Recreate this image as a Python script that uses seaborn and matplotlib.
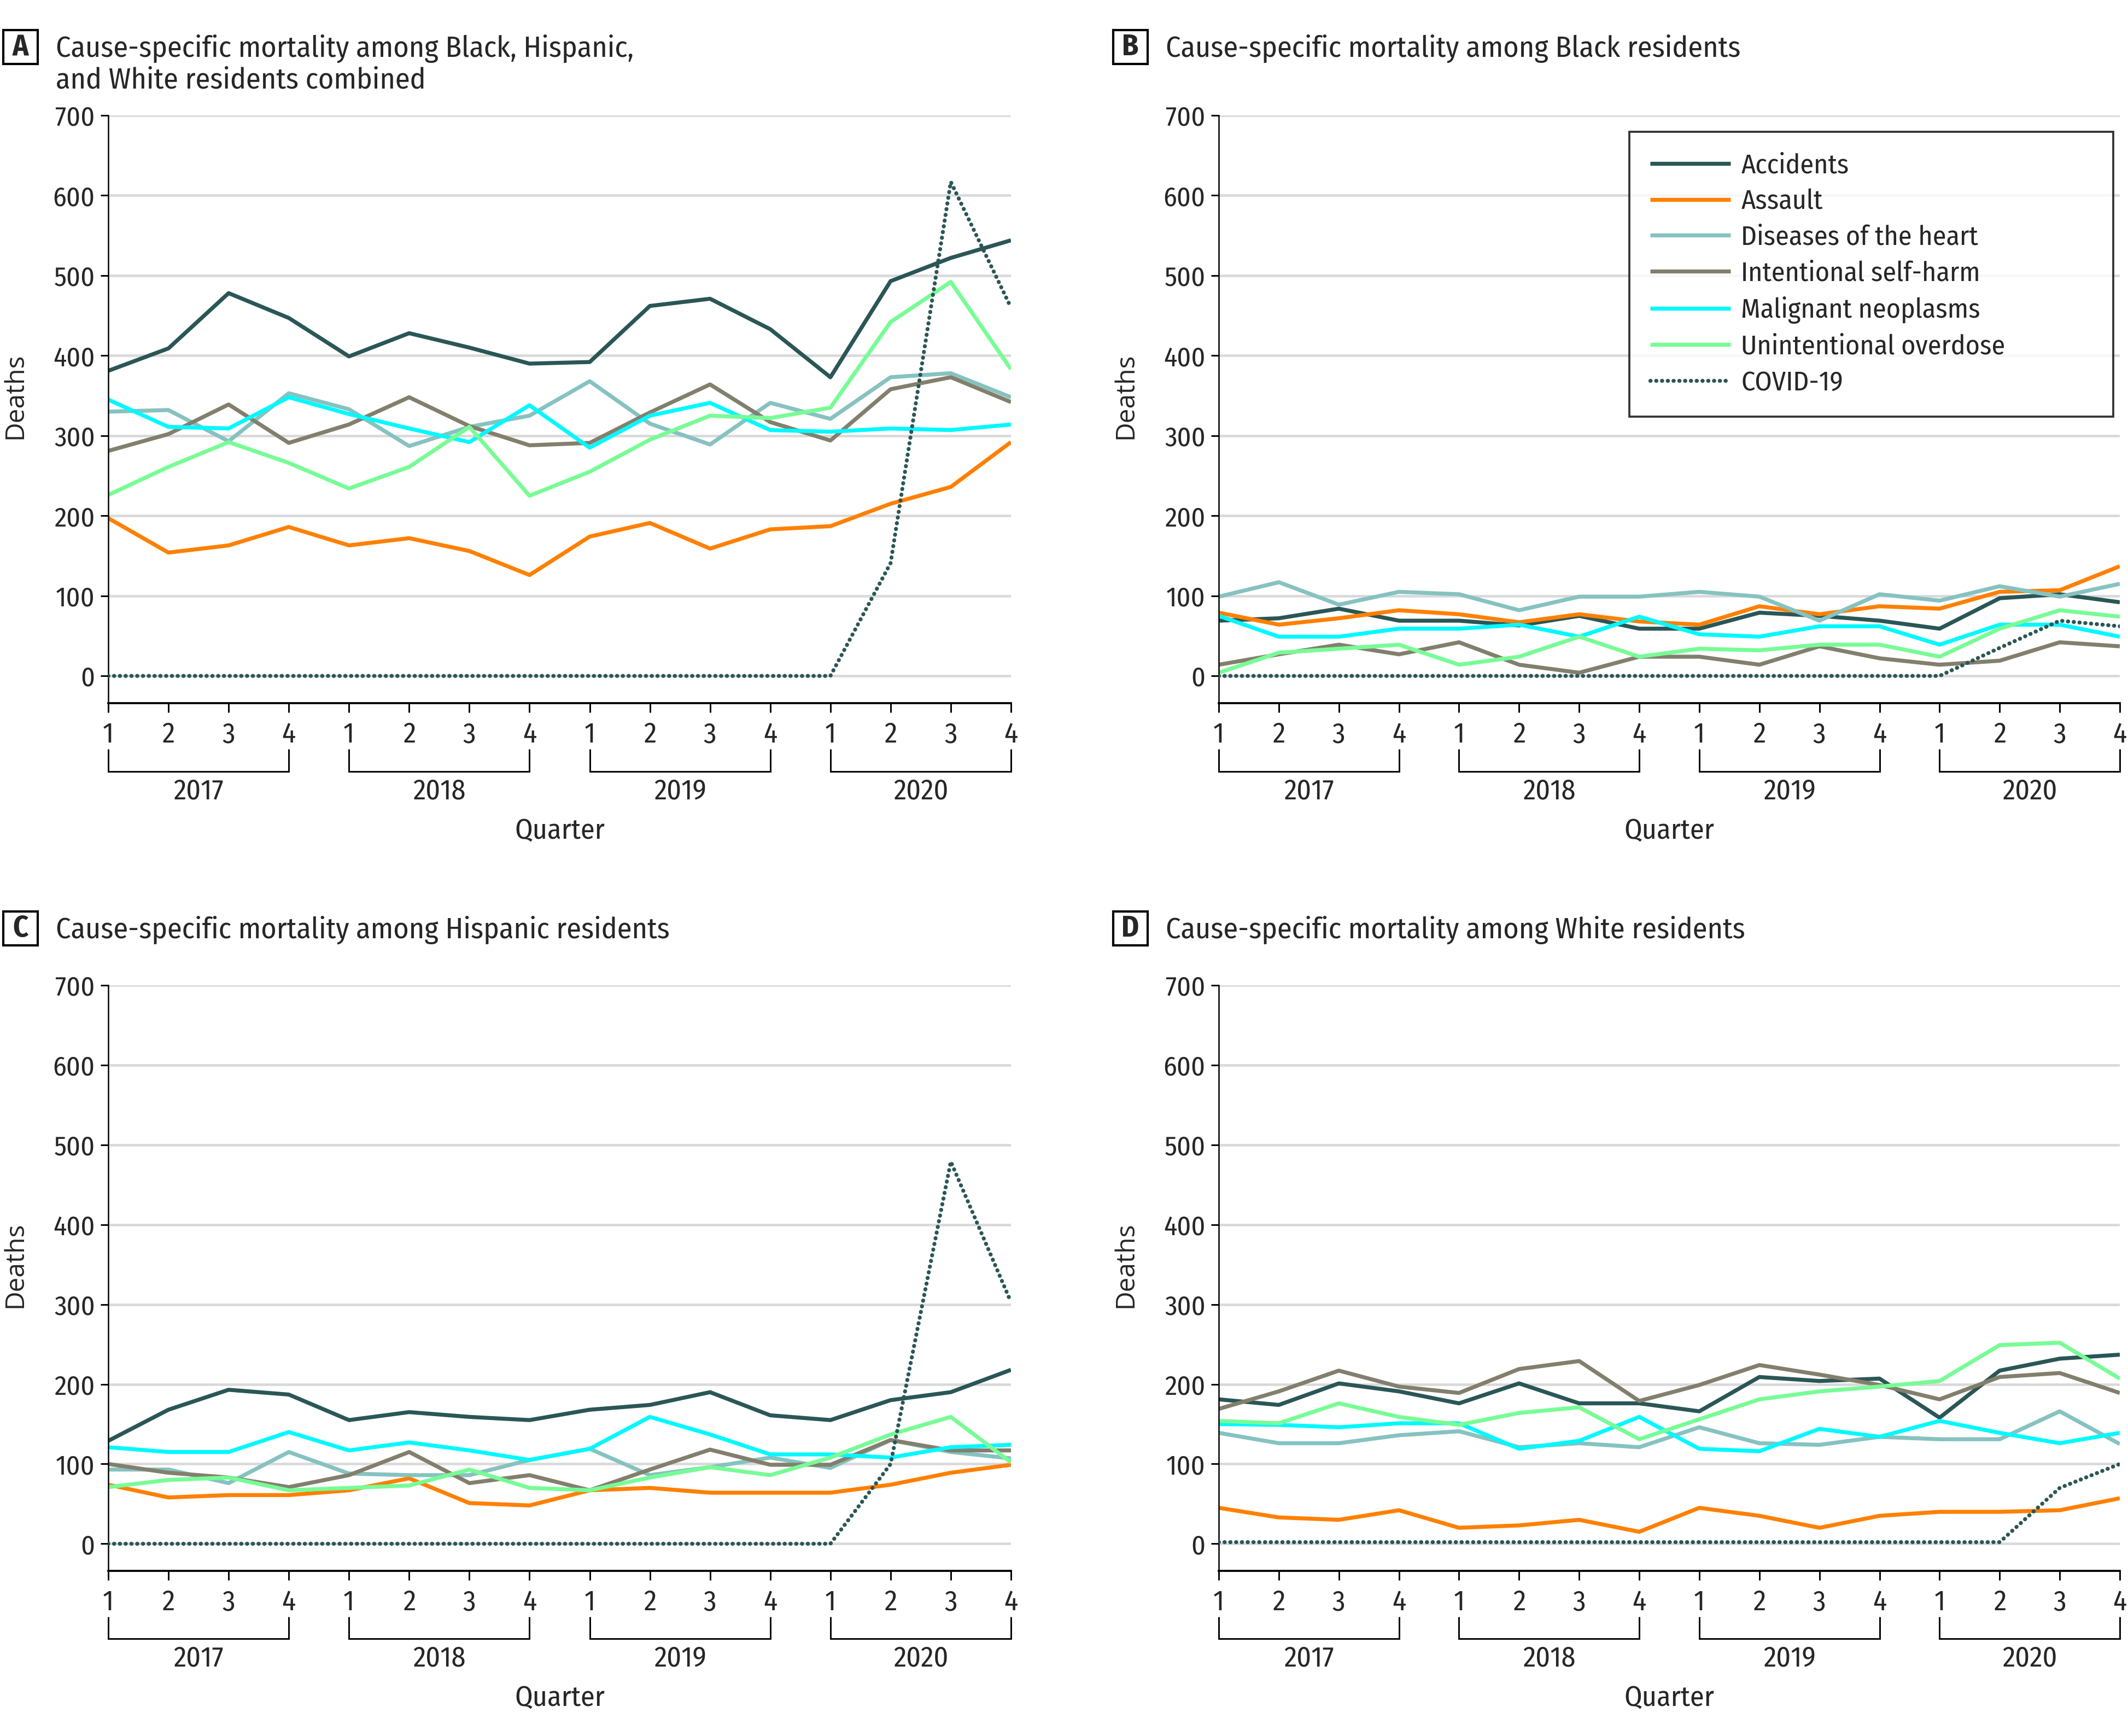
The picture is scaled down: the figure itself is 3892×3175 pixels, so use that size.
import numpy as np
import pandas as pd
import matplotlib
matplotlib.use("Agg")
import matplotlib.pyplot as plt
import matplotlib.transforms as mtransforms
from matplotlib.lines import Line2D
from matplotlib.patches import Rectangle
import seaborn as sns

# ---------------- data ----------------
quarter_labels = ["1", "2", "3", "4"] * 4
years = ["2017", "2018", "2019", "2020"]
causes = ["Accidents", "Assault", "Diseases of the heart", "Intentional self-harm",
          "Malignant neoplasms", "Unintentional overdose", "COVID-19"]

# Panel A: combined
a_accidents = [381, 409, 478, 447, 399, 428, 410, 390, 392, 462, 471, 433, 373, 493, 522, 544]
a_assault = [197, 154, 163, 186, 163, 172, 156, 126, 174, 191, 159, 183, 187, 215, 236, 292]
a_heart = [330, 332, 293, 353, 333, 287, 311, 325, 368, 315, 289, 341, 321, 373, 378, 348]
a_selfharm = [281, 302, 339, 291, 314, 348, 312, 288, 291, 329, 364, 317, 294, 358, 373, 342]
a_neoplasms = [345, 311, 309, 348, 327, 309, 292, 338, 285, 325, 341, 307, 305, 309, 307, 314]
a_overdose = [226, 261, 292, 266, 234, 261, 311, 225, 255, 295, 325, 322, 335, 442, 492, 383]
a_covid = [0, 0, 0, 0, 0, 0, 0, 0, 0, 0, 0, 0, 0, 141, 617, 460]

# Panel B: Black residents
b_accidents = [69, 72, 84, 69, 69, 63, 75, 59, 59, 79, 75, 69, 59, 97, 102, 92]
b_assault = [79, 64, 72, 82, 77, 67, 77, 68, 64, 87, 77, 87, 84, 105, 107, 137]
b_heart = [99, 117, 89, 105, 102, 82, 99, 99, 105, 99, 69, 102, 94, 112, 99, 115]
b_selfharm = [14, 27, 39, 27, 42, 14, 4, 24, 24, 14, 37, 22, 14, 19, 42, 37]
b_neoplasms = [75, 49, 49, 59, 59, 64, 49, 74, 52, 49, 62, 62, 39, 64, 64, 49]
b_overdose = [4, 29, 34, 39, 14, 24, 49, 24, 34, 32, 39, 39, 24, 59, 82, 74]
b_covid = [0, 0, 0, 0, 0, 0, 0, 0, 0, 0, 0, 0, 0, 35, 69, 62]

# Panel C: Hispanic residents
c_accidents = [129, 168, 193, 187, 155, 165, 159, 155, 168, 174, 190, 161, 155, 180, 190, 218]
c_assault = [74, 58, 61, 61, 67, 82, 51, 48, 67, 70, 64, 64, 64, 74, 89, 99]
c_heart = [93, 93, 76, 115, 88, 86, 86, 105, 119, 86, 96, 108, 95, 130, 115, 107]
c_selfharm = [100, 89, 83, 71, 86, 115, 76, 86, 67, 93, 118, 99, 99, 130, 117, 117]
c_neoplasms = [121, 115, 115, 140, 117, 127, 117, 105, 119, 159, 137, 112, 112, 108, 121, 124]
c_overdose = [71, 80, 83, 67, 70, 73, 93, 70, 67, 83, 96, 86, 108, 137, 159, 102]
c_covid = [0, 0, 0, 0, 0, 0, 0, 0, 0, 0, 0, 0, 0, 100, 479, 303]

# Panel D: White residents
d_accidents = [181, 174, 201, 191, 176, 201, 176, 176, 166, 209, 204, 207, 158, 217, 232, 237]
d_assault = [45, 33, 30, 42, 20, 23, 30, 15, 45, 35, 20, 35, 40, 40, 42, 57]
d_heart = [139, 126, 126, 136, 141, 121, 126, 121, 146, 126, 124, 134, 131, 131, 166, 125]
d_selfharm = [169, 191, 217, 197, 189, 219, 229, 179, 199, 224, 212, 199, 181, 209, 214, 189]
d_neoplasms = [150, 149, 146, 151, 151, 119, 129, 159, 119, 116, 144, 134, 154, 139, 126, 139]
d_overdose = [154, 151, 176, 159, 149, 164, 171, 131, 156, 181, 191, 197, 204, 249, 252, 207]
d_covid = [2, 2, 2, 2, 2, 2, 2, 2, 2, 2, 2, 2, 2, 2, 70, 100]

panel_titles = [
    ["Cause-specific mortality among Black, Hispanic,", "and White residents combined"],
    ["Cause-specific mortality among Black residents"],
    ["Cause-specific mortality among Hispanic residents"],
    ["Cause-specific mortality among White residents"],
]
panel_letters = ["A", "B", "C", "D"]

panels = [
    [a_accidents, a_assault, a_heart, a_selfharm, a_neoplasms, a_overdose, a_covid],
    [b_accidents, b_assault, b_heart, b_selfharm, b_neoplasms, b_overdose, b_covid],
    [c_accidents, c_assault, c_heart, c_selfharm, c_neoplasms, c_overdose, c_covid],
    [d_accidents, d_assault, d_heart, d_selfharm, d_neoplasms, d_overdose, d_covid],
]

colors = {
    "Accidents": "#2b5656",
    "Assault": "#ff8000",
    "Diseases of the heart": "#86c2c0",
    "Intentional self-harm": "#837f6d",
    "Malignant neoplasms": "#00f9ff",
    "Unintentional overdose": "#78fc96",
    "COVID-19": "#2b5656",
}

# ---------------- style ----------------
sns.set_theme(style="white")
COND = ["Fira Sans Condensed", "Roboto Condensed", "DejaVu Sans"]
plt.rcParams["font.family"] = COND
plt.rcParams["lines.dash_capstyle"] = "round"
plt.rcParams["lines.solid_capstyle"] = "butt"

W, H = 3892, 3175
DPI = 300
fig = plt.figure(figsize=(W / DPI, H / DPI), dpi=DPI)

# axes rectangles in pixels: left, right, top, bottom
rects_px = [
    (198, 1849, 211, 1286),
    (2229, 3877, 211, 1286),
    (198, 1849, 1802, 2873),
    (2229, 3877, 1802, 2873),
]

YTICK_FS = 12
XTICK_FS = 12.5
LW = 1.75
DOT = (0, (0.05, 1.4))
x_idx = np.arange(16)

for p, (vals, rect) in enumerate(zip(panels, rects_px)):
    l, r, t, b = rect
    ax = fig.add_axes([l / W, 1 - b / H, (r - l) / W, (b - t) / H])
    for cause, v in zip(causes, vals):
        df = pd.DataFrame({"q": x_idx, "deaths": v})
        if cause == "COVID-19":
            sns.lineplot(data=df, x="q", y="deaths", ax=ax, color=colors[cause],
                         linewidth=LW, linestyle=DOT, legend=False, zorder=3)
        else:
            sns.lineplot(data=df, x="q", y="deaths", ax=ax, color=colors[cause],
                         linewidth=LW, legend=False, zorder=2)
    ax.set_xlim(0, 15)
    ax.set_ylim(-34, 700)
    ax.set_yticks(np.arange(0, 701, 100))
    ax.set_yticklabels([str(v) for v in range(0, 701, 100)], fontsize=YTICK_FS)
    ax.set_xticks(x_idx)
    ax.set_xticklabels(quarter_labels, fontsize=XTICK_FS)
    ax.grid(axis="y", color="#d9d9d9", linewidth=1.1, zorder=0)
    ax.grid(axis="x", visible=False)
    ax.set_axisbelow(True)
    for s in ["top", "right"]:
        ax.spines[s].set_visible(False)
    ax.spines["left"].set_color("black")
    ax.spines["left"].set_linewidth(0.6)
    ax.spines["bottom"].set_color("black")
    ax.spines["bottom"].set_linewidth(0.9)
    ax.tick_params(axis="y", direction="out", length=3.4, width=0.7, color="black", pad=2.4, left=True)
    ax.tick_params(axis="x", direction="out", length=4, width=0.7, color="black", pad=4, bottom=True)
    ax.set_xlabel("")
    ax.set_ylabel("")

    # y-axis title
    ycen = (t + b) / 2 - 24
    fig.text((l - 170) / W, 1 - ycen / H, "Deaths", rotation=90, ha="center", va="center",
             fontsize=11.5, family=["Open Sans", "DejaVu Sans"])

    # year brackets
    trans = mtransforms.blended_transform_factory(ax.transData, ax.transAxes)
    for k, yr in enumerate(years):
        x0, x1 = 4 * k, 4 * k + 3
        ax.plot([x0, x0, x1, x1], [-0.078, -0.116, -0.116, -0.078], transform=trans,
                color="black", linewidth=0.7, clip_on=False, solid_joinstyle="miter")
        ax.text((x0 + x1) / 2, -0.150, yr, transform=trans, ha="center", va="center",
                fontsize=XTICK_FS)
    ax.text(7.5, -0.218, "Quarter", transform=trans, ha="center", va="center",
            fontsize=XTICK_FS)

    # legend in panel B
    if p == 1:
        handles = []
        for cause in causes:
            if cause == "COVID-19":
                handles.append(Line2D([0], [0], color=colors[cause], linewidth=LW, linestyle=DOT))
            else:
                handles.append(Line2D([0], [0], color=colors[cause], linewidth=LW))
        leg = ax.legend(handles, causes, loc="upper left",
                        bbox_to_anchor=(0.456, 0.5, 0.5367, 0.472), mode="expand",
                        fontsize=12, frameon=True, fancybox=False, edgecolor="black",
                        handlelength=2.95, handletextpad=0.38, labelspacing=0.36,
                        borderpad=0.75, borderaxespad=0)
        leg.get_frame().set_linewidth(0.9)

# panel titles (letter boxes + titles)
title_origin = [(6, 0), (2036, 0), (6, 1612), (2036, 1612)]
for (ox, oy), letter, lines in zip(title_origin, panel_letters, panel_titles):
    fig.add_artist(Rectangle((ox / W, 1 - (oy + 117) / H), 63 / W, 62 / H,
                             transform=fig.transFigure, fill=False, edgecolor="black",
                             linewidth=1.0))
    fig.text((ox + 31.5) / W, 1 - (oy + 87) / H, letter, ha="center", va="center",
             fontsize=13, fontweight="bold")
    for i, line in enumerate(lines):
        fig.text((ox + 96) / W, 1 - (oy + 104 + 57 * i) / H, line, ha="left",
                 va="baseline", fontsize=13)

fig.savefig("out.png", dpi=DPI)
